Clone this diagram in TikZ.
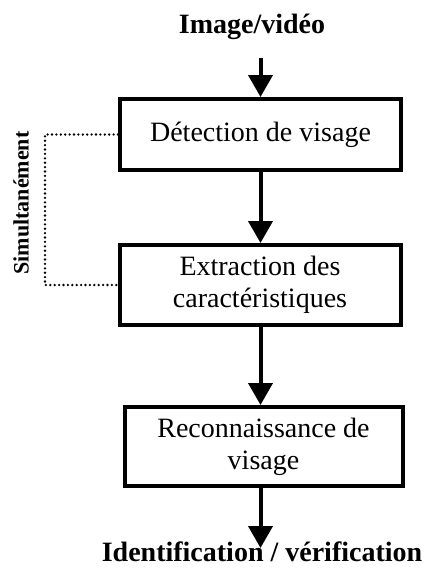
\documentclass[tikz,border=0pt]{standalone}
\usepackage{fontspec}
\setmainfont{Liberation Serif}
\usetikzlibrary{positioning,arrows.meta}
\definecolor{ink}{RGB}{0,0,0}

\begin{document}
\begin{tikzpicture}[x=1pt, y=-1pt,
    % Node styles
    stage/.style={rectangle, draw=ink, line width=4pt, fill=white, text=ink,
                  minimum width=281pt, align=center, inner sep=0pt,
                  font=\fontsize{28}{32}\selectfont},
    endlabel/.style={text=ink, inner sep=0pt, font=\fontsize{28}{32}\selectfont\bfseries},
    sidelabel/.style={text=ink, inner sep=0pt, rotate=90, font=\fontsize{22}{26}\selectfont\bfseries},
    % Arrow styles
    flow/.style={-{Triangle[length=22pt, width=24pt]}, line width=4pt, color=ink},
    simul/.style={line width=2.6pt, color=ink, line cap=round, dash pattern=on 0pt off 4.4pt}
]
\useasboundingbox (0,0) rectangle (425,568);

% Input and output labels
\node[endlabel] (input) at (252, 27) {Image/vidéo};
\node[endlabel] (ident) at (262, 552) {Identification / vérification};
\coordinate (outtip) at (260.5, 548);

% Processing stages
\node[stage, minimum height=71pt] (detect) at (260.5, 134.5) {Détection de visage};
\node[stage, minimum height=80pt] (extract) at (260, 285) {Extraction des\\caractéristiques};
\node[stage, minimum height=79pt, minimum width=278pt] (recog) at (263.5, 446.5) {Reconnaissance de\\visage};

% Main flow
\draw[flow, shorten <=18pt] (detect.north |- input.south) -- (detect.north);
\draw[flow] (detect.south) -- (detect.south |- extract.north);
\draw[flow] (detect.south |- extract.south) -- (detect.south |- recog.north);
\draw[flow] (recog.south -| outtip) -- (outtip);

% Simultaneous link
\draw[simul] (detect.west) -- ++(-73,0) |- (extract.west);
\node[sidelabel] (simlabel) at (21, 203) {Simultanément};

\end{tikzpicture}
\end{document}
